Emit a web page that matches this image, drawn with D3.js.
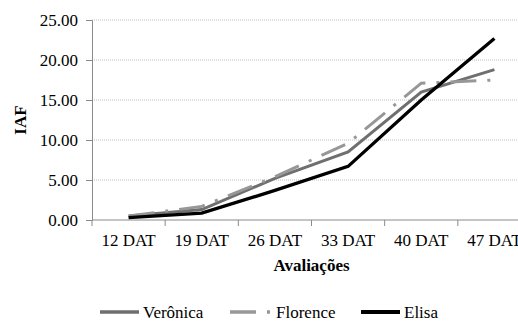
<!DOCTYPE html>
<html>
<head>
<meta charset="utf-8">
<script src="https://cdn.jsdelivr.net/npm/d3@7"></script>
<style>
  body { margin: 0; background: #fff; }
</style>
</head>
<body>
<svg width="518" height="322"></svg>
<script>
// data
var categories = ["12 DAT", "19 DAT", "26 DAT", "33 DAT", "40 DAT", "47 DAT"];
var veronica = [0.5, 1.3, 5.2, 8.5, 16.0, 18.8];
var florence = [0.5, 1.7, 5.4, 9.6, 17.1, 17.5];
var elisa = [0.3, 0.85, 3.7, 6.7, 15.0, 22.7];
var yTicks = [0, 5, 10, 15, 20, 25];

var serif = "'Liberation Serif', 'Times New Roman', Times, serif";

var series = [
  {name: "Verônica", values: veronica, color: "#6f6f6f", width: 3, dash: null},
  {name: "Florence", values: florence, color: "#979797", width: 3, dash: "26,11,3,11"},
  {name: "Elisa", values: elisa, color: "#000", width: 3.3, dash: null}
];

var svg = d3.select("svg"),
    margin = {top: 20, left: 92, bottom: 102, right: -13},
    width = 518 - margin.left - margin.right,
    height = 322 - margin.top - margin.bottom;

var x = d3.scaleBand().domain(categories).range([margin.left, margin.left + width]),
    y = d3.scaleLinear().domain([0, 25]).range([margin.top + height, margin.top]);

// gridlines
svg.append("g")
  .selectAll("line")
  .data(yTicks.filter(function(d) { return d > 0; }))
  .enter().append("line")
    .attr("x1", margin.left)
    .attr("x2", 518)
    .attr("y1", function(d) { return y(d); })
    .attr("y2", function(d) { return y(d); })
    .attr("stroke", "#bdbdbd")
    .attr("stroke-width", 1)
    .attr("stroke-dasharray", "1,1");

// y axis
var yAxis = svg.append("g")
  .attr("transform", "translate(" + margin.left + ",0)")
  .call(d3.axisLeft(y).tickValues(yTicks).tickFormat(d3.format(".2f")).tickSize(6).tickPadding(8));
yAxis.select(".domain").attr("stroke", "#8a8a8a");
yAxis.selectAll(".tick line").attr("stroke", "#8a8a8a");
yAxis.selectAll("text")
  .style("font-family", serif)
  .style("font-size", "17px")
  .attr("fill", "#000");

// x axis
var xAxis = svg.append("g")
  .attr("transform", "translate(0," + (margin.top + height) + ")")
  .call(d3.axisBottom(x).tickSize(0).tickPadding(14).tickSizeOuter(0));
xAxis.select(".domain").remove();
xAxis.selectAll("text")
  .style("font-family", serif)
  .style("font-size", "17px")
  .attr("fill", "#000");
svg.append("line")
  .attr("x1", margin.left).attr("x2", 518)
  .attr("y1", y(0)).attr("y2", y(0))
  .attr("stroke", "#8a8a8a");
svg.append("g")
  .selectAll("line")
  .data(categories)
  .enter().append("line")
    .attr("x1", function(d) { return x(d); })
    .attr("x2", function(d) { return x(d); })
    .attr("y1", y(0))
    .attr("y2", y(0) + 6)
    .attr("stroke", "#8a8a8a");

// axis titles
svg.append("text")
  .attr("transform", "translate(26," + (margin.top + height / 2) + ") rotate(-90)")
  .attr("text-anchor", "middle")
  .style("font-family", serif)
  .style("font-size", "17px")
  .style("font-weight", "bold")
  .text("IAF");

svg.append("text")
  .attr("x", margin.left + width / 2)
  .attr("y", 271)
  .attr("text-anchor", "middle")
  .style("font-family", serif)
  .style("font-size", "17px")
  .style("font-weight", "bold")
  .text("Avaliações");

// lines
var line = d3.line()
  .x(function(d, i) { return x(categories[i]) + x.bandwidth() / 2; })
  .y(function(d) { return y(d); });

series.forEach(function(s) {
  svg.append("path")
    .datum(s.values)
    .attr("d", line)
    .attr("fill", "none")
    .attr("stroke", s.color)
    .attr("stroke-width", s.width)
    .attr("stroke-dasharray", s.dash);
});

// legend
var legendX = [100, 230, 361];
var legend = svg.append("g");
series.forEach(function(s, i) {
  var g = legend.append("g").attr("transform", "translate(" + legendX[i] + ",312)");
  g.append("line")
    .attr("x1", 0).attr("x2", i == 1 ? 41 : 39)
    .attr("stroke", s.color)
    .attr("stroke-width", s.width + 0.5)
    .attr("stroke-dasharray", s.dash);
  g.append("text")
    .attr("x", i == 1 ? 46 : 43)
    .attr("y", 6)
    .style("font-family", serif)
    .style("font-size", "17px")
    .text(s.name);
});
</script>
</body>
</html>
